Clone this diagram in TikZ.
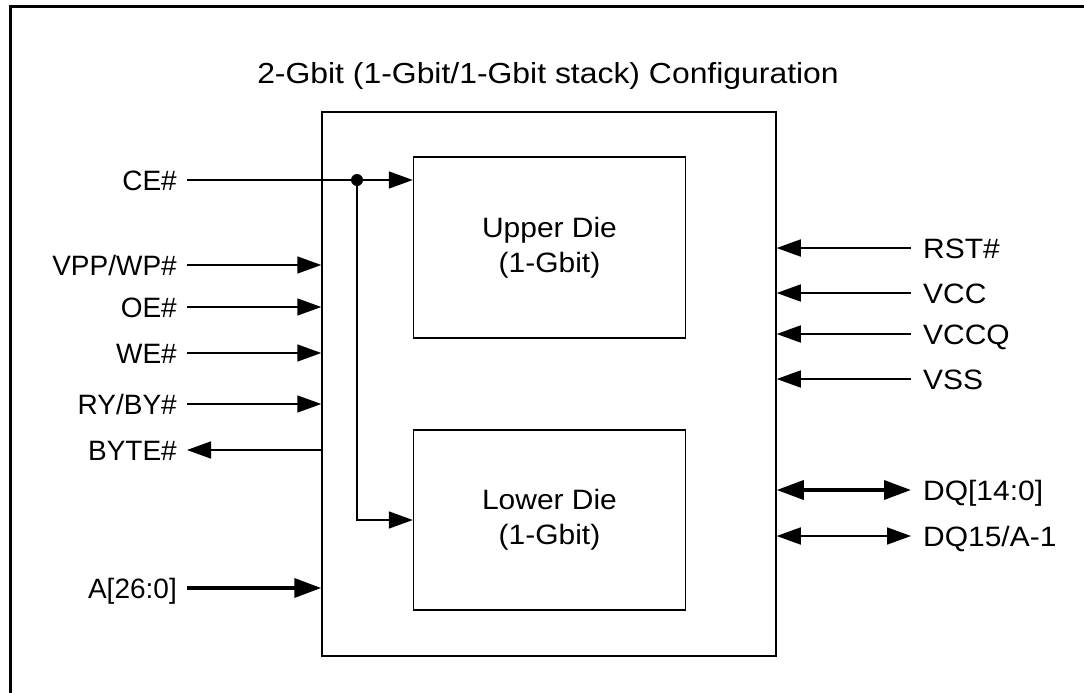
\documentclass[tikz,border=0pt]{standalone}
\usepackage{fontspec}
\setmainfont{Liberation Sans}
\newfontfamily\diefont{Liberation Sans}[FakeStretch=1.07]
\newfontfamily\titlefont{Liberation Sans}[FakeStretch=1.1]
\usetikzlibrary{arrows.meta}

\tikzset{
  lpin/.style={anchor=east, inner xsep=10pt, inner ysep=0pt, text height=20pt, text depth=0pt, font=\fontsize{28}{34}\selectfont},
  rpin/.style={anchor=west, inner xsep=12pt, inner ysep=0pt, text height=20pt, text depth=0pt, font=\diefont\fontsize{28}{34}\selectfont},
  die/.style={draw, line width=1.5pt, minimum width=272pt, minimum height=181pt, align=center, font=\diefont\fontsize{28}{35}\selectfont},
  sig/.style={line width=1.6pt, -{Triangle[length=24pt,width=17pt]}},
  bus/.style={line width=3.5pt, {Triangle[length=27pt,width=19pt]}-{Triangle[length=27pt,width=19pt]}}
}

\begin{document}
\begin{tikzpicture}[x=1pt,y=-1pt]
        \useasboundingbox (0,0) rectangle (1084,693);
        \draw[line width=3pt] (10,693) -- (10,7) -- (1084,7);

        \node[anchor=base, font=\titlefont\fontsize{29}{34}\selectfont] (title) at (548,83) {2-Gbit (1-Gbit/1-Gbit stack) Configuration};

        \node[draw, line width=1.5pt, minimum width=454pt, minimum height=544pt] (chip) at (549,384) {};
        \node[die] (upper) at (549.5,247.5) {Upper Die\\(1-Gbit)};
        \node[die, minimum height=180pt] (lower) at (549.5,520) {Lower Die\\(1-Gbit)};

        % left side
        \node[lpin] (ce) at (187,180) {CE\#};
        \node[lpin] (vpp) at (187,265) {VPP/WP\#};
        \node[lpin] (oe) at (187,307) {OE\#};
        \node[lpin] (we) at (187,353) {WE\#};
        \node[lpin] (ry) at (187,404) {RY/BY\#};
        \node[lpin] (byte) at (187,450) {BYTE\#};
        \node[lpin] (addr) at (187,588) {A[26:0]};

        % right side
        \node[rpin] (rst) at (911,248) {RST\#};
        \node[rpin] (vcc) at (911,293) {VCC};
        \node[rpin] (vccq) at (911,334) {VCCQ};
        \node[rpin] (vss) at (911,379) {VSS};
        \node[rpin] (dq) at (911,490) {DQ[14:0]};
        \node[rpin] (dqa) at (911,536) {DQ15/A-1};

        \coordinate (ceBranch) at (357,180);

        \draw[sig] (ce.east) -- (ce.east -| upper.west);
        \fill (ceBranch) circle (6);
        \draw[sig] (ceBranch) |- (lower.west);

        \draw[sig] (vpp.east) -- (vpp.east -| chip.west);
        \draw[sig] (oe.east) -- (oe.east -| chip.west);
        \draw[sig] (we.east) -- (we.east -| chip.west);
        \draw[sig] (ry.east) -- (ry.east -| chip.west);
        \draw[sig] (byte.east -| chip.west) -- (byte.east);
        \draw[sig, line width=3.5pt, -{Triangle[length=27pt,width=19pt]}] (addr.east) -- (addr.east -| chip.west);

        \draw[sig] (rst.west) -- (rst.west -| chip.east);
        \draw[sig] (vcc.west) -- (vcc.west -| chip.east);
        \draw[sig] (vccq.west) -- (vccq.west -| chip.east);
        \draw[sig] (vss.west) -- (vss.west -| chip.east);
        \draw[bus] (dq.west -| chip.east) -- (dq.west);
        \draw[sig, {Triangle[length=24pt,width=17pt]}-{Triangle[length=24pt,width=17pt]}] (dqa.west -| chip.east) -- (dqa.west);

\end{tikzpicture}
\end{document}
